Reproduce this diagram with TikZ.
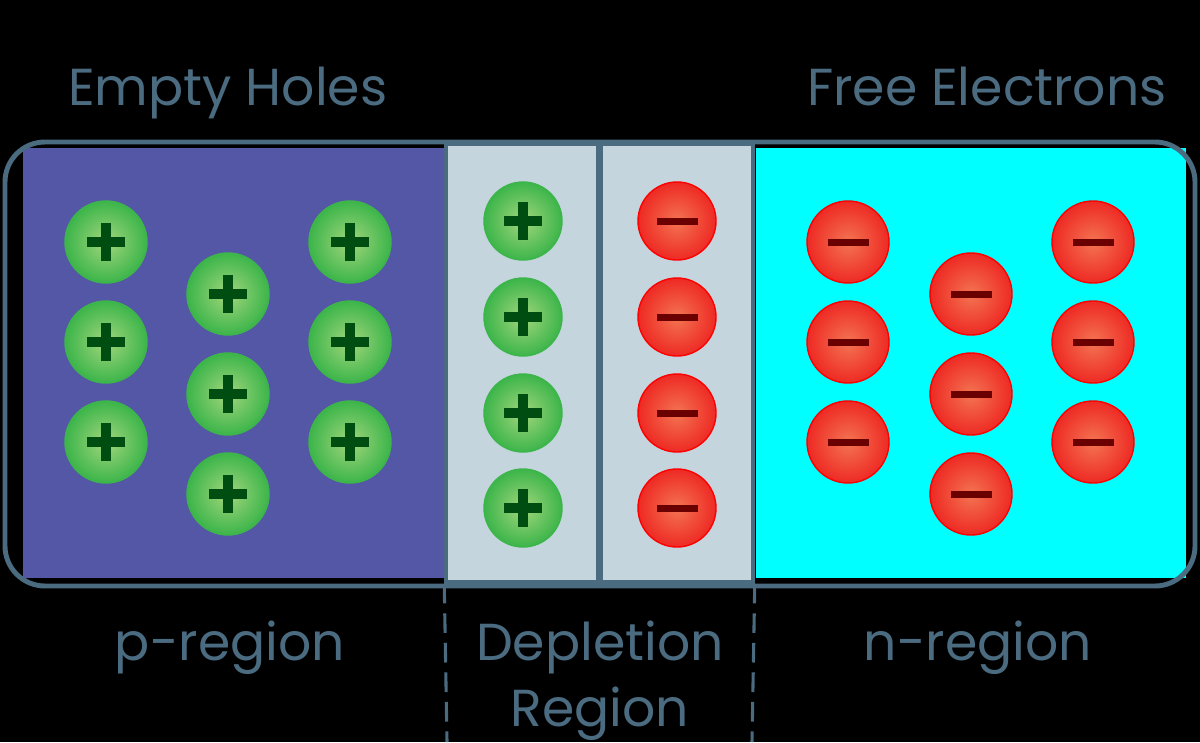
\documentclass[tikz,border=0pt]{standalone}
\usepackage{fontspec}
\setmainfont{Poppins}
\usetikzlibrary{positioning, calc}
\definecolor{Frame}{HTML}{4A6B80}
\definecolor{PFill}{HTML}{5456A6}
\definecolor{NFill}{HTML}{00FFFF}
\definecolor{Depl}{HTML}{C5D5DE}
\definecolor{HoleIn}{HTML}{A2D67C}
\definecolor{HoleOut}{HTML}{3CB54A}
\definecolor{PlusSign}{HTML}{004D12}
\definecolor{ElecIn}{HTML}{F37452}
\definecolor{ElecOut}{HTML}{EE2A24}
\definecolor{MinusSign}{HTML}{6B0000}

\begin{document}
\begin{tikzpicture}[
    x=0.025cm, y=-0.025cm,
    hole/.style={circle, minimum size=82*0.025cm, inner sep=0pt, draw=HoleOut, line width=1pt,
        shading=radial, inner color=HoleIn, outer color=HoleOut,
        path picture={
            \fill[PlusSign] ($(path picture bounding box.center)+(-19,-5)$) rectangle ++(38,10);
            \fill[PlusSign] ($(path picture bounding box.center)+(-5,-19)$) rectangle ++(10,38);
        }},
    elec/.style={circle, minimum size=80*0.025cm, inner sep=0pt, draw=red, line width=1pt,
        shading=radial, inner color=ElecIn, outer color=ElecOut,
        path picture={
            \fill[MinusSign] ($(path picture bounding box.center)+(-20.5,-3.5)$) rectangle ++(41,7);
        }},
    region/.style={draw=Frame, line width=2.5pt, fill=Depl},
    lbl/.style={text=Frame, font=\fontsize{37}{44}\selectfont, inner sep=0pt},
    bracket/.style={draw=Frame, line width=2.2pt, dash pattern=on 14pt off 7pt}
]

% canvas
\fill[black] (0,0) rectangle (1200,742);
\useasboundingbox (0,0) rectangle (1200,742);

% regions
\fill[PFill] (23,148) rectangle (444,578);
\fill[NFill] (756,148) rectangle (1186,578);
\draw[Frame, line width=3.5pt, rounded corners=40*0.025cm] (5,142) rectangle (1195,586);
\node[region, minimum width=152*0.025cm, minimum height=438*0.025cm, inner sep=0pt] (dl) at (522,363) {};
\node[region, minimum width=152*0.025cm, minimum height=438*0.025cm, inner sep=0pt] (dr) at (677,363) {};

% p-region holes
\node[hole] (h1) at (106,242) {};
\node[hole] (h2) at (106,342) {};
\node[hole] (h3) at (106,442) {};
\node[hole] (h4) at (228,294) {};
\node[hole] (h5) at (228,394) {};
\node[hole] (h6) at (228,494) {};
\node[hole] (h7) at (350,242) {};
\node[hole] (h8) at (350,342) {};
\node[hole] (h9) at (350,442) {};

% depletion ions
\foreach \i/\y in {1/221, 2/317, 3/413, 4/508} {
    \node[hole, minimum size=78*0.025cm] (dp\i) at (523,\y) {};
    \node[elec, minimum size=78*0.025cm] (dn\i) at (677,\y) {};
}

% n-region electrons
\node[elec, minimum size=82*0.025cm] (e1) at (848,242) {};
\node[elec, minimum size=82*0.025cm] (e2) at (848,342) {};
\node[elec, minimum size=82*0.025cm] (e3) at (848,442) {};
\node[elec, minimum size=82*0.025cm] (e4) at (971,294) {};
\node[elec, minimum size=82*0.025cm] (e5) at (971,394) {};
\node[elec, minimum size=82*0.025cm] (e6) at (971,494) {};
\node[elec, minimum size=82*0.025cm] (e7) at (1093,242) {};
\node[elec, minimum size=82*0.025cm] (e8) at (1093,342) {};
\node[elec, minimum size=82*0.025cm] (e9) at (1093,442) {};

% labels
\node[lbl, anchor=base west] (holes) at (68,105) {Empty Holes};
\node[lbl, anchor=base east] (free) at (1167,105) {Free Electrons};
\node[lbl, anchor=base] (preg) at (230,660) {p-region};
\node[lbl, anchor=base] (depl) at (600,660) {Depletion};
\node[lbl, anchor=base] (dreg) at (600,726) {Region};
\node[lbl, anchor=base] (nreg) at (978,660) {n-region};

% depletion bracket
\coordinate (bl) at (447,742);
\coordinate (br) at (752,742);
\draw[bracket] (dl.south west) -- (bl);
\draw[bracket] (dr.south east) -- (br);

\end{tikzpicture}
\end{document}
